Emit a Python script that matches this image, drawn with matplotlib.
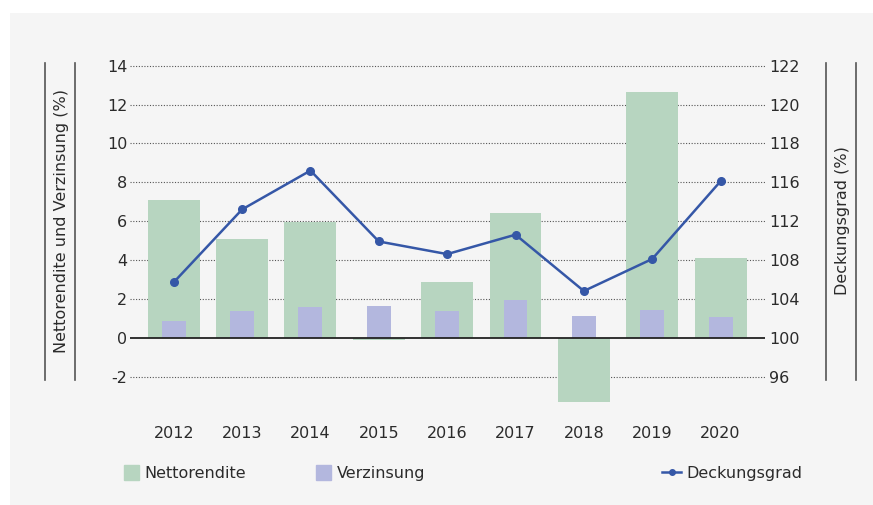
import matplotlib
matplotlib.use("Agg")
import matplotlib.pyplot as plt
from matplotlib.lines import Line2D
from matplotlib.patches import Patch, Rectangle
import numpy as np

plt.rcParams['font.family'] = ['Liberation Sans Narrow', 'DejaVu Sans']
plt.rcParams['axes.unicode_minus'] = False

years = ['2012', '2013', '2014', '2015', '2016', '2017', '2018', '2019', '2020']
nettorendite = [7.1, 5.1, 5.95, -0.12, 2.85, 6.4, -3.3, 12.65, 4.1]
verzinsung = [0.86, 1.36, 1.56, 1.61, 1.36, 1.96, 1.1, 1.41, 1.05]
deckungsgrad = [105.7, 113.2, 117.2, 109.9, 108.6, 110.6, 104.8, 108.1, 116.1]
left_ticks = [-2, 0, 2, 4, 6, 8, 10, 12, 14]
right_labels = ['96', '100', '104', '108', '112', '116', '118', '120', '122']

green = '#b7d5c0'
purple = '#b3b7de'
blue = '#3557a7'
bg = '#f5f5f5'
txt = '#2b2b2b'
W, H = 873, 505

fig = plt.figure(figsize=(W / 100, H / 100), dpi=100, facecolor='white')
# grauer Hintergrund
fig.patches.append(Rectangle((10 / W, 0), 1 - 10 / W, 1 - 13 / H, transform=fig.transFigure,
                             facecolor=bg, edgecolor='none', zorder=-10))

ylo, yhi = -3.6, 14.1
ax = fig.add_axes([130 / W, 1 - 407.6 / H, 635 / W, (407.6 - 63.7) / H])
ax.set_facecolor('none')
x = np.arange(len(years))

for y in left_ticks:
    if y != 0:
        ax.axhline(y, color='#555555', lw=0.8, ls=(0, (1, 1.5)), zorder=1)
ax.bar(x, nettorendite, width=0.76, color=green, zorder=2)
ax.bar(x, verzinsung, width=0.35, color=purple, zorder=3)
ax.axhline(0, color='#222222', lw=1.3, zorder=4)

ax.set_xlim(-0.64, 8.65)
ax.set_ylim(ylo, yhi)
ax.set_xticks(x)
ax.set_xticklabels(years)
ax.set_yticks(left_ticks)
ax.tick_params(axis='x', length=0, pad=13, labelsize=11.5, labelcolor=txt)
ax.tick_params(axis='y', length=0, pad=2, labelsize=11.5, labelcolor=txt)
for s in ax.spines.values():
    s.set_visible(False)

ax2 = ax.twinx()
ax2.set_ylim(100 + 2 * ylo, 100 + 2 * yhi)
ax2.plot(x, deckungsgrad, color=blue, lw=1.8, marker='o', ms=5.5, zorder=5)
ax2.set_yticks([100 + 2 * t for t in left_ticks])
ax2.set_yticklabels(right_labels)
ax2.tick_params(axis='y', length=0, pad=3, labelsize=11.5, labelcolor=txt)
for s in ax2.spines.values():
    s.set_visible(False)

# Achsentitel mit Linien
fig.text(61.5 / W, 1 - 221 / H, 'Nettorendite und Verzinsung (%)', rotation=90,
         ha='center', va='center', fontsize=11.5, color=txt)
fig.text(843 / W, 1 - 221 / H, 'Deckungsgrad (%)', rotation=90,
         ha='center', va='center', fontsize=11.5, color=txt)
for lx in [44.5, 75, 825.7, 855.7]:
    fig.lines.append(Line2D([lx / W, lx / W], [1 - 62.5 / H, 1 - 379.5 / H],
                            transform=fig.transFigure, color='#555555', lw=1.2))

# Legende
leg_kw = dict(frameon=False, fontsize=11.5, labelcolor=txt, loc='center left',
              handlelength=0.95, handleheight=1.05, handletextpad=0.35, borderpad=0, borderaxespad=0)
fig.legend(handles=[Patch(color=green, label='Nettorendite')],
           bbox_to_anchor=(124 / W, 1 - 473 / H), **leg_kw)
fig.legend(handles=[Patch(color=purple, label='Verzinsung')],
           bbox_to_anchor=(316 / W, 1 - 473 / H), **leg_kw)
leg_kw['handlelength'] = 1.2
fig.legend(handles=[Line2D([], [], color=blue, lw=1.8, marker='o', ms=4, label='Deckungsgrad')],
           bbox_to_anchor=(662 / W, 1 - 473 / H), **leg_kw)

fig.savefig('out.png', dpi=100, facecolor=fig.get_facecolor())
